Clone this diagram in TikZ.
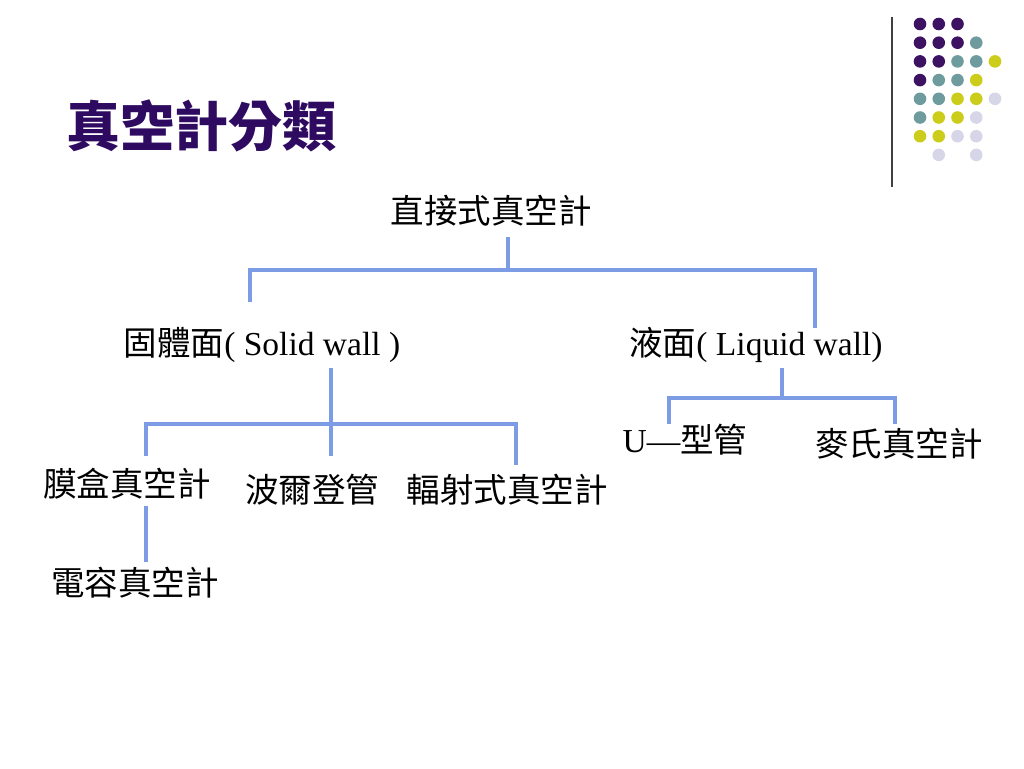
\documentclass[tikz,border=0pt]{standalone}
\usepackage{fontspec}
\setmainfont{Liberation Serif}
\newfontfamily\cjk{Noto Sans CJK TC}
\definecolor{treeblue}{RGB}{124,156,230}
\definecolor{titlepurple}{RGB}{46,10,96}
\definecolor{dotpurple}{RGB}{62,18,98}
\definecolor{dotteal}{RGB}{110,156,158}
\definecolor{dotyellow}{RGB}{204,204,26}
\definecolor{dotlilac}{RGB}{214,214,232}
\tikzset{
  lbl/.style={inner sep=0pt, font=\fontsize{33.5}{40}\selectfont},
  branch/.style={draw=treeblue, line width=4pt},
}
\begin{document}
\begin{tikzpicture}[x=1pt, y=-1pt]
    \useasboundingbox (0,0) rectangle (1024,768);
    \coordinate (root-out) at (508,237);
    \coordinate (root-fork) at (508,270);
    \coordinate (solid-in) at (250,302);
    \coordinate (liquid-in) at (815,328);
    \coordinate (solid-out) at (331,368);
    \coordinate (solid-fork) at (331,424);
    \coordinate (capsule-in) at (146,456);
    \coordinate (bourdon-in) at (331,456);
    \coordinate (radiation-in) at (516,465);
    \coordinate (capsule-out) at (146,506);
    \coordinate (capacitance-in) at (146,562);
    \coordinate (liquid-out) at (782,368);
    \coordinate (liquid-fork) at (782,398);
    \coordinate (utube-in) at (669,424);
    \coordinate (mcleod-in) at (895,424);

    %title
    \node[inner sep=0pt, text=titlepurple, font=\cjk\bfseries\fontsize{54}{60}\selectfont] (title) at (201,126) {真空計分類};

    %dots
    \draw[black!75, line width=1.5pt] (892,17) -- (892,187);
    \foreach \c/\r/\col in {1/1/dotpurple, 2/1/dotpurple, 3/1/dotpurple,
        1/2/dotpurple, 2/2/dotpurple, 3/2/dotpurple, 4/2/dotteal,
        1/3/dotpurple, 2/3/dotpurple, 3/3/dotteal, 4/3/dotteal, 5/3/dotyellow,
        1/4/dotpurple, 2/4/dotteal, 3/4/dotteal, 4/4/dotyellow,
        1/5/dotteal, 2/5/dotteal, 3/5/dotyellow, 4/5/dotyellow, 5/5/dotlilac,
        1/6/dotteal, 2/6/dotyellow, 3/6/dotyellow, 4/6/dotlilac,
        1/7/dotyellow, 2/7/dotyellow, 3/7/dotlilac, 4/7/dotlilac,
        2/8/dotlilac, 4/8/dotlilac} {
      \fill[\col] (901.25+18.75*\c, 5.3+18.7*\r) circle[radius=6.3pt];
    }

    %labels
    \node[lbl] (root) at (491,211) {\cjk 直接式真空計};
    \node[lbl] (solid) at (262,345) {{\cjk 固體面}( Solid wall )};
    \node[lbl] (liquid) at (756,345) {{\cjk 液面}( Liquid wall)};
    \node[lbl] (capsule) at (127,484) {\cjk 膜盒真空計};
    \node[lbl] (bourdon) at (312,490) {\cjk 波爾登管};
    \node[lbl] (radiation) at (507,490) {\cjk 輻射式真空計};
    \node[lbl] (capacitance) at (135,583) {\cjk 電容真空計};
    \node[lbl] (utube) at (685,440) {U—{\cjk 型管}};
    \node[lbl] (mcleod) at (899,444) {\cjk 麥氏真空計};

    %tree
    \draw[branch] (root-out) -- (root-fork);
    \draw[branch] (solid-in) |- (root-fork) -| (liquid-in);
    \draw[branch] (solid-out) -- (solid-fork);
    \draw[branch] (capsule-in) |- (solid-fork) -| (radiation-in);
    \draw[branch] (solid-fork) -- (bourdon-in);
    \draw[branch] (capsule-out) -- (capacitance-in);
    \draw[branch] (liquid-out) -- (liquid-fork);
    \draw[branch] (utube-in) |- (liquid-fork) -| (mcleod-in);
\end{tikzpicture}
\end{document}
